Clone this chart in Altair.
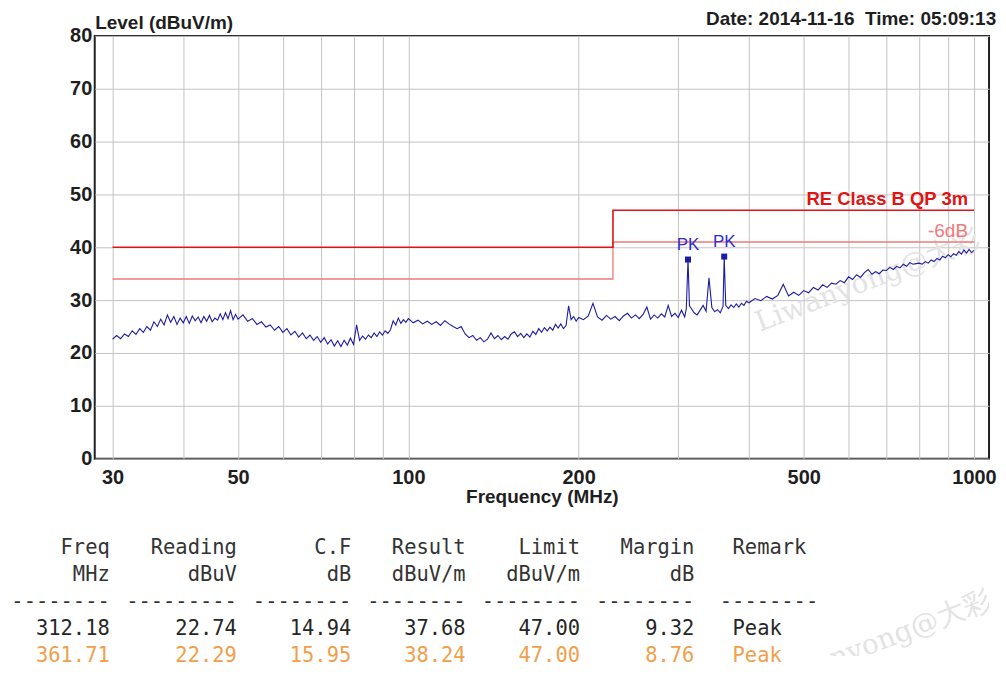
import altair as alt
import pandas as pd

# ---------------- measured trace (MHz, dBuV/m) ----------------
freq_a = [30.0, 30.5, 31.0, 31.5, 32.0, 32.5, 33.0, 33.5, 34.0, 34.5, 35.0, 35.5, 36.0, 36.5,
          37.0, 37.5, 38.0, 38.5, 39.0, 39.5, 40.0, 40.5, 41.0, 41.5, 42.0, 42.5, 43.0, 43.5,
          44.0, 44.5, 45.0, 45.5, 46.0, 46.5, 47.0, 47.5, 48.0, 48.5, 49.0, 49.5, 50.0]
level_a = [22.6, 23.3, 22.7, 23.6, 23.1, 24.2, 23.5, 24.6, 23.9, 25.0, 24.3, 25.9, 25.0, 26.4,
           25.3, 27.2, 25.8, 26.9, 25.4, 26.6, 25.7, 26.9, 25.6, 27.0, 26.1, 26.8, 25.7, 26.9,
           26.0, 27.1, 25.9, 26.6, 26.2, 27.4, 26.3, 27.6, 26.5, 28.0, 26.3, 27.3, 26.4]

freq_b = [51, 52, 53, 54, 55, 56, 57, 58, 59, 60, 61, 62, 63, 64, 65, 66, 67, 68, 69, 70,
          71, 72, 73, 74, 75, 76, 77, 78, 79, 80, 81, 82, 83, 84, 85, 86, 87, 88, 89, 90,
          91, 92, 93, 94, 95, 96, 97, 98, 99, 100]
level_b = [27.2, 26.0, 26.5, 25.4, 25.9, 24.9, 25.3, 24.3, 25.0, 23.9,
           24.6, 23.4, 24.1, 23.0, 23.8, 22.7, 23.4, 22.4, 23.1, 22.0,
           22.9, 21.7, 22.5, 21.3, 22.3, 21.2, 22.4, 21.5, 22.8, 21.6,
           25.3, 22.4, 23.2, 22.6, 23.4, 22.9, 23.8, 23.1, 24.0, 23.4,
           24.2, 23.7, 24.4, 26.1, 25.3, 26.6, 25.6, 26.3, 25.8, 26.5]

freq_c = [102, 104, 106, 108, 110, 112, 114, 116, 118, 120, 122, 124, 126, 128, 130, 132, 134,
          136, 138, 140, 142, 144, 146, 148, 150, 152, 154, 156, 158, 160, 162, 164, 166, 168,
          170, 172, 174, 176, 178, 180, 182, 184, 186, 188, 190, 192, 194, 196, 198, 200]
level_c = [25.7, 26.2, 25.5, 26.0, 25.4, 25.9, 25.2, 26.1, 25.5, 25.0,
           24.6, 25.0, 23.6, 22.9, 23.3, 22.4, 22.9, 22.1, 22.6, 23.8,
           22.7, 23.3, 22.5, 23.1, 22.6, 23.6, 24.0, 23.1, 23.7, 22.9,
           23.6, 23.0, 24.1, 23.5, 24.6, 23.9, 24.8, 24.2, 24.9, 24.3,
           25.4, 24.7, 25.5, 24.6, 25.2, 28.9, 26.3, 26.9, 26.0, 26.7]

freq_d = [204, 208, 212, 216, 220, 224, 228, 232, 236, 240, 244, 248, 252, 256, 260, 264, 268,
          272, 276, 280, 284, 288, 292, 296, 300, 304, 308, 310, 312.18, 314, 316, 320, 324,
          328, 332, 336, 340, 344, 348, 352, 356, 360, 361.71, 364, 368, 372, 376, 380, 384,
          388, 392, 396, 400]
level_d = [26.3, 27.0, 29.4, 26.8, 26.2, 27.1, 26.4, 26.9, 26.1, 27.0, 27.5, 26.6, 27.2, 26.5,
           27.3, 28.7, 26.4, 27.2, 26.6, 27.4, 26.8, 29.0, 26.9, 27.5, 26.7, 28.1, 26.8, 28.4,
           37.68, 28.9, 28.5, 27.6, 27.2, 28.1, 29.0, 27.9, 34.2, 28.6, 27.8, 28.2, 27.6, 28.8,
           38.24, 29.0, 28.4, 29.1, 28.6, 29.3, 28.7, 29.4, 29.0, 29.8, 29.5]

freq_e = [410, 420, 430, 440, 450, 460, 470, 480, 490, 500, 510, 520, 530, 540, 550, 560, 570,
          580, 590, 600, 610, 620, 630, 640, 650, 660, 670, 680, 690, 700, 710, 720, 730, 740,
          750, 760, 770, 780, 790, 800, 810, 820, 830, 840, 850, 860, 870, 880, 890, 900, 910,
          920, 930, 940, 950, 960, 970, 980, 990, 1000]
level_e = [30.3, 29.9, 30.7, 30.2, 30.9, 33.0, 30.8, 31.5, 30.9, 31.8,
           31.4, 32.4, 31.9, 32.9, 32.4, 33.2, 33.0, 33.7, 33.3, 34.4,
           33.9, 34.8, 34.3, 35.2, 35.8, 34.9, 35.4, 35.0, 35.7, 35.6,
           36.2, 35.8, 36.4, 36.1, 36.8, 36.4, 37.1, 36.8, 36.9, 37.0,
           36.8, 37.3, 37.0, 37.6, 37.3, 37.9, 37.6, 38.3, 38.0, 38.6,
           38.2, 38.8, 38.5, 39.2, 38.7, 39.5, 38.9, 39.6, 39.0, 39.4]

# ---------------- limit lines ----------------
limit_freq = [30, 230, 230, 1000]
limit_level = [40, 40, 47, 47]
limit6_level = [34, 34, 41, 41]
limit_name = "RE Class B QP 3m"
limit6_name = "-6dB"

# ---------------- peak table ----------------
peak_freq = [312.18, 361.71]
peak_reading = [22.74, 22.29]
peak_cf = [14.94, 15.95]
peak_result = [37.68, 38.24]
peak_limit = [47.00, 47.00]
peak_margin = [9.32, 8.76]
peak_remark = ["Peak", "Peak"]
peak_tag = ["PK", "PK"]

header_top = ["Freq", "Reading", "C.F", "Result", "Limit", "Margin", "Remark"]
header_unit = ["MHz", "dBuV", "dB", "dBuV/m", "dBuV/m", "dB", ""]
col_chars = [8, 9, 8, 8, 8, 8, 8]

y_ticks = [0, 10, 20, 30, 40, 50, 60, 70, 80]
x_grid = [30, 40, 50, 60, 70, 80, 90, 100, 200, 300, 400, 500, 600, 700, 800, 900, 1000]
x_labels = [30, 50, 100, 200, 500, 1000]

date_text = "Date: 2014-11-16\u00a0\u00a0Time: 05:09:13"
watermark = "Liwanyong@大彩"

# ---------------- styling ----------------
FONT = "Liberation Sans"
MONO = "DejaVu Sans Mono"
TRACE = "#1c1ca6"
RED = "#e01414"
LIGHTRED = "#f07a7a"
GRID = "#c4c4c4"
TXT = "#1e1e1e"
WMC = "#e3e3e3"
W, H = 897, 424
ROWS_H = 108

trace = pd.DataFrame({
    "freq": freq_a + freq_b + freq_c + freq_d + freq_e,
    "level": level_a + level_b + level_c + level_d + level_e,
})
limits = pd.DataFrame({"freq": limit_freq, "level": limit_level, "idx": range(4)})
limits6 = pd.DataFrame({"freq": limit_freq, "level": limit6_level, "idx": range(4)})
peaks = pd.DataFrame({"freq": peak_freq, "level": peak_result, "tag": peak_tag})
lim_lab = pd.DataFrame({"freq": [limit_freq[-1]], "level": [limit_level[-1]], "t": [limit_name]})
lim6_lab = pd.DataFrame({"freq": [limit_freq[-1]], "level": [limit6_level[-1]], "t": [limit6_name]})
wm1 = pd.DataFrame({"freq": [650], "level": [33.5], "t": [watermark]})

label_list = ",".join(str(v) for v in x_labels)
xscale = alt.Scale(type="log", domain=[27.9, 1063], nice=False)
yscale = alt.Scale(domain=[0, 80], nice=False, zero=False)

xaxis = alt.Axis(values=x_grid, format="d",
                 labelExpr=f"indexof([{label_list}], datum.value) >= 0 ? format(datum.value, 'd') : ''",
                 grid=True, gridColor=GRID, gridWidth=1, ticks=False, domain=False,
                 labelPadding=9, labelFlush=False, labelOverlap=False,
                 title="Frequency (MHz)", titlePadding=0)
yaxis = alt.Axis(values=y_ticks, grid=True, gridColor=GRID, gridWidth=1, ticks=False,
                 domain=False, labelPadding=3, labelOverlap=False,
                 title="Level (dBuV/m)", titleAngle=0, titleAlign="left",
                 titleBaseline="middle", titleX=0, titleY=-13)


def X():
    return alt.X("freq:Q", scale=xscale, axis=xaxis)


def Y():
    return alt.Y("level:Q", scale=yscale, axis=yaxis)


wm_layer = alt.Chart(wm1).mark_text(
    font="DejaVu Serif", fontSize=28, angle=339, color=WMC
).encode(x=X(), y=Y(), text="t:N")

lim_line = alt.Chart(limits).mark_line(color=RED, strokeWidth=1.6).encode(
    x=X(), y=Y(), order="idx:Q")
lim6_line = alt.Chart(limits6).mark_line(color=LIGHTRED, strokeWidth=1.3).encode(
    x=X(), y=Y(), order="idx:Q")

trace_line = alt.Chart(trace).mark_line(color=TRACE, strokeWidth=1.1).encode(x=X(), y=Y())

peak_pts = alt.Chart(peaks).mark_square(color=TRACE, size=36, opacity=1).encode(x=X(), y=Y())
peak_txt = alt.Chart(peaks).mark_text(
    font=FONT, fontSize=17, color="#2d2dd2", baseline="alphabetic", dy=-10
).encode(x=X(), y=Y(), text="tag:N")

lim_txt = alt.Chart(lim_lab).mark_text(
    font=FONT, fontSize=18.5, fontWeight="bold", color=RED, align="right",
    baseline="alphabetic", dx=-6, dy=-5
).encode(x=X(), y=Y(), text="t:N")
lim6_txt = alt.Chart(lim6_lab).mark_text(
    font=FONT, fontSize=19, color=LIGHTRED, align="right",
    baseline="alphabetic", dx=-6, dy=-5
).encode(x=X(), y=Y(), text="t:N")

plot = alt.layer(
    wm_layer, lim6_line, lim_line, trace_line, peak_pts, peak_txt, lim_txt, lim6_txt
).properties(
    width=W, height=H,
    view=alt.ViewBackground(stroke="#222222", strokeWidth=2),
    title=alt.TitleParams(text=date_text, anchor="end", font=FONT, fontSize=19,
                          fontWeight="bold", color=TXT, offset=-15),
)

# ---------------- table ----------------
def fmt(v):
    return f"{v:.2f}"

num_cols = [peak_freq, peak_reading, peak_cf, peak_result, peak_limit, peak_margin]
cols_text = []
for j in range(6):
    vals = num_cols[j]
    cols_text.append([header_top[j], header_unit[j], "-" * col_chars[j], fmt(vals[0]), fmt(vals[1])])

right_edges = []
pos = 0
for j in range(6):
    pos += col_chars[j]
    right_edges.append(pos)
    pos += 1

kinds = ["head", "head", "head", "row1", "row2"]
recs_r = []
for j in range(6):
    for r in range(5):
        recs_r.append({"c": right_edges[j], "row": r, "t": cols_text[j][r], "kind": kinds[r]})
remark_left = right_edges[-1] + 3
recs_l = [
    {"c": remark_left, "row": 0, "t": header_top[6], "kind": "head"},
    {"c": remark_left - 1, "row": 2, "t": "-" * col_chars[6], "kind": "head"},
    {"c": remark_left, "row": 3, "t": peak_remark[0], "kind": "row1"},
    {"c": remark_left, "row": 4, "t": peak_remark[1], "kind": "row2"},
]
tab_r = pd.DataFrame(recs_r)
tab_l = pd.DataFrame(recs_l)
wm2 = pd.DataFrame({"c": [68.5], "row": [3.5], "t": [watermark]})

tx = alt.X("c:Q", scale=alt.Scale(domain=[6.82, 77.18], nice=False, zero=False), axis=None)
ty = alt.Y("row:Q", scale=alt.Scale(domain=[0, 4], range=[0, ROWS_H], nice=False, zero=False),
           axis=None)
tc = alt.Color("kind:N", scale=alt.Scale(domain=["head", "row1", "row2"],
                                          range=["#333333", "#262626", "#f0a04b"]), legend=None)

wm_tab = alt.Chart(wm2).mark_text(
    font="DejaVu Serif", fontSize=28, angle=339, color=WMC, clip=True
).encode(x=tx, y=ty, text="t:N")
tab_right = alt.Chart(tab_r).mark_text(font=MONO, fontSize=20.5, align="right", baseline="middle").encode(
    x=tx, y=ty, text="t:N", color=tc)
tab_left = alt.Chart(tab_l).mark_text(font=MONO, fontSize=20.5, align="left", baseline="middle").encode(
    x=tx, y=ty, text="t:N", color=tc)

table = alt.layer(wm_tab, tab_right, tab_left).properties(
    width=W, height=ROWS_H, view=alt.ViewBackground(stroke="transparent"))

chart = alt.vconcat(plot, table, spacing=90, bounds="flush").properties(
    padding={"left": 2, "top": 0, "right": 0, "bottom": 0},
    background="white",
).configure_axis(
    labelFont=FONT, labelFontSize=20, labelFontWeight="bold", labelColor=TXT,
    titleFont=FONT, titleFontSize=19, titleFontWeight="bold", titleColor=TXT,
)

chart.save("out.html", embed_options={"renderer": "svg", "actions": False})
